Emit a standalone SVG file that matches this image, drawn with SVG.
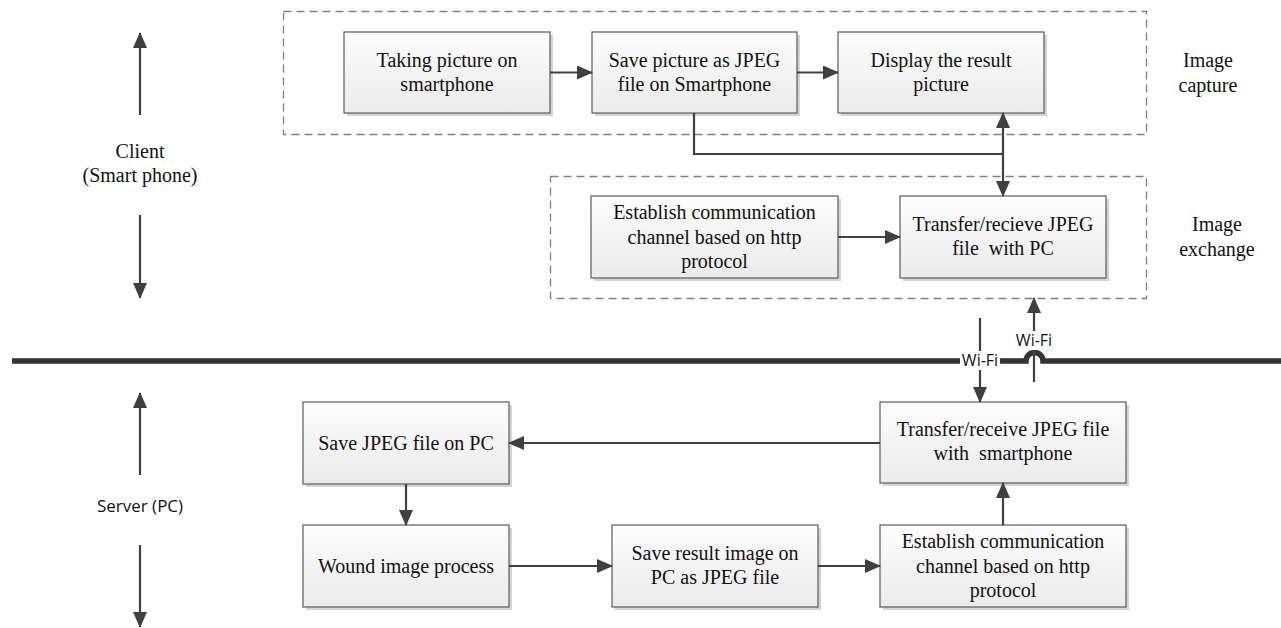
<svg xmlns="http://www.w3.org/2000/svg" width="1281" height="628" viewBox="0 0 1281 628">
<style>
.box{fill:url(#g);stroke:#5a5a5a;stroke-width:1.2}
.sh{fill:#d4d4d4}
.t{font-family:"Liberation Serif",serif;font-size:20px;fill:#111;text-anchor:middle}
.w{font-family:"Open Sans",sans-serif;font-size:16px;fill:#111;text-anchor:middle}
.s{font-family:"Open Sans",sans-serif;font-size:17px;fill:#111;text-anchor:middle}
.ln{fill:none;stroke:#404040;stroke-width:2.2}
.ar{fill:none;stroke:#404040;stroke-width:2.2;marker-end:url(#ah)}
.dash{fill:none;stroke:#808080;stroke-width:1.3;stroke-dasharray:8,5}
</style>
<defs>
<linearGradient id="g" x1="0" y1="0" x2="0" y2="1">
<stop offset="0" stop-color="#fdfdfd"/>
<stop offset="1" stop-color="#ebebeb"/>
</linearGradient>
<marker id="ah" markerUnits="userSpaceOnUse" markerWidth="16" markerHeight="14" refX="15" refY="7" orient="auto">
<path d="M0,0 L16,7 L0,14 z" fill="#404040"/>
</marker>
</defs>
<rect width="1281" height="628" fill="#fff"/>

<g id="groups">
<rect class="dash" x="283.5" y="11.5" width="863" height="123"/>
<rect class="dash" x="550.5" y="176.5" width="596" height="122"/>
<text class="t" x="1208" y="67">Image</text>
<text class="t" x="1208" y="92">capture</text>
<text class="t" x="1217" y="231">Image</text>
<text class="t" x="1217" y="256">exchange</text>
</g>

<g id="side">
<text class="t" x="140" y="158">Client</text>
<text class="t" x="140" y="182">(Smart phone)</text>
<text class="s" x="140" y="512">Server (PC)</text>
</g>

<g id="n1"><rect class="sh" x="347" y="35" width="206" height="81"/><rect class="box" x="344" y="32" width="206" height="81"/>
<text class="t" x="447" y="67">Taking picture on</text><text class="t" x="447" y="91">smartphone</text></g>
<g id="n2"><rect class="sh" x="595" y="35" width="205" height="81"/><rect class="box" x="592" y="32" width="205" height="81"/>
<text class="t" x="694.5" y="67">Save picture as JPEG</text><text class="t" x="694.5" y="91">file on Smartphone</text></g>
<g id="n3"><rect class="sh" x="841" y="35" width="206" height="81"/><rect class="box" x="838" y="32" width="206" height="81"/>
<text class="t" x="941" y="67">Display the result</text><text class="t" x="941" y="91">picture</text></g>
<g id="n4"><rect class="sh" x="594" y="199" width="247" height="82"/><rect class="box" x="591" y="196" width="247" height="82"/>
<text class="t" x="714.5" y="219">Establish communication</text><text class="t" x="714.5" y="244">channel based on http</text><text class="t" x="714.5" y="268">protocol</text></g>
<g id="n5"><rect class="sh" x="903" y="199" width="206" height="82"/><rect class="box" x="900" y="196" width="206" height="82"/>
<text class="t" x="1003" y="231">Transfer/recieve JPEG</text><text class="t" x="1003" y="255" xml:space="preserve">file  with PC</text></g>

<g id="n6"><rect class="sh" x="306" y="405" width="206" height="82"/><rect class="box" x="303" y="402" width="206" height="82"/>
<text class="t" x="406" y="450">Save JPEG file on PC</text></g>
<g id="n7"><rect class="sh" x="883" y="405" width="246" height="81"/><rect class="box" x="880" y="402" width="246" height="81"/>
<text class="t" x="1003" y="436">Transfer/receive JPEG file</text><text class="t" x="1003" y="460" xml:space="preserve">with  smartphone</text></g>
<g id="n8"><rect class="sh" x="306" y="528" width="206" height="82"/><rect class="box" x="303" y="525" width="206" height="82"/>
<text class="t" x="406" y="573">Wound image process</text></g>
<g id="n9"><rect class="sh" x="615" y="528" width="206" height="82"/><rect class="box" x="612" y="525" width="206" height="82"/>
<text class="t" x="715" y="560">Save result image on</text><text class="t" x="715" y="584">PC as JPEG file</text></g>
<g id="n10"><rect class="sh" x="883" y="528" width="246" height="82"/><rect class="box" x="880" y="525" width="246" height="82"/>
<text class="t" x="1003" y="548">Establish communication</text><text class="t" x="1003" y="573">channel based on http</text><text class="t" x="1003" y="597">protocol</text></g>

<g id="connectors">
<line class="ar" x1="550" y1="72.5" x2="592" y2="72.5"/>
<line class="ar" x1="797" y1="72.5" x2="838" y2="72.5"/>
<polyline class="ln" points="694,113 694,154 1003,154"/>
<line class="ar" x1="1003" y1="154" x2="1003" y2="196"/>
<line class="ar" x1="1003" y1="154" x2="1003" y2="113"/>
<line class="ar" x1="838" y1="237" x2="900" y2="237"/>
<line class="ar" x1="880" y1="443" x2="509" y2="443"/>
<line class="ar" x1="406" y1="484" x2="406" y2="525"/>
<line class="ar" x1="509" y1="566" x2="612" y2="566"/>
<line class="ar" x1="818" y1="566" x2="880" y2="566"/>
<line class="ar" x1="1003" y1="525" x2="1003" y2="483"/>
<line class="ar" x1="140" y1="115" x2="140" y2="33"/>
<line class="ar" x1="140" y1="215" x2="140" y2="298"/>
<line class="ar" x1="140" y1="475" x2="140" y2="393"/>
<line class="ar" x1="140" y1="545" x2="140" y2="627"/>
<path fill="none" stroke="#333" stroke-width="5.5" d="M12,361 H960 M1000,361 H1026 A8.5,8.5 0 0 1 1043,361 H1281"/>
<line class="ar" x1="980" y1="318" x2="980" y2="402"/>
<line class="ar" x1="1034" y1="382" x2="1034" y2="298"/>
<rect x="960" y="351" width="40" height="19" fill="#fff"/>
<text class="w" x="980" y="366">Wi-Fi</text>
<rect x="1014" y="331" width="40" height="19" fill="#fff"/>
<text class="w" x="1034" y="346">Wi-Fi</text>
</g>
</svg>
